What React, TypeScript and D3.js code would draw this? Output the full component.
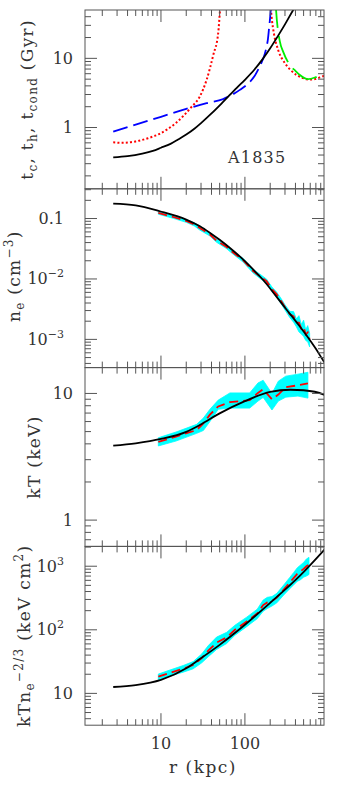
import React from 'react';
import * as d3 from 'd3';

const WIDTH = 361;
const HEIGHT = 795;
const X_LEFT = 85;
const X_RIGHT = 324;
const PANEL_TOP = 10;
const PANEL_H = 178.8;

// ---------- x axis ----------
const R_DOMAIN = [1.245, 875];
const X_TICK_VALUES = [10, 100];
const X_TICK_LABELS = ['10', '100'];
const X_TITLE = 'r (kpc)';

// ---------- panel 1 : timescales ----------
const T_DOMAIN = [0.13, 50];
const T_TICK_VALUES = [1, 10];
const T_TICK_LABELS = ['1', '10'];
// cooling time (black)
const TC_R = [2.7, 4, 6, 8, 10, 13, 16, 20, 25, 30, 40, 55, 80, 100, 130, 165, 200, 250, 300, 376, 420];
const TC_V = [0.37, 0.385, 0.42, 0.46, 0.51, 0.58, 0.67, 0.79, 0.96, 1.16, 1.6, 2.35, 3.75, 4.9, 6.9, 10, 14, 21.5, 31, 50, 62];
// heating time (blue dashed)
const TH_R = [2.7, 5, 10, 20, 35, 55, 87, 115, 131, 145, 159, 172, 181, 188, 193, 198, 203, 206];
const TH_V = [0.87, 1.1, 1.43, 1.86, 2.25, 2.58, 3.5, 4.6, 5.6, 7, 8.9, 11.5, 14.7, 19, 25.7, 35, 50, 65];
// red dotted, inner branch
const TD1_R = [2.7, 3.5, 5, 7, 10, 15, 23, 29, 35, 42, 48, 50.5, 51.5];
const TD1_V = [0.61, 0.6, 0.63, 0.7, 0.83, 1.16, 1.97, 2.8, 4.9, 11.2, 22.9, 50, 70];
// red dotted, outer branch
const TD2_R = [202, 205, 210, 221, 249, 299, 350, 412, 480, 543, 610, 681, 780, 880];
const TD2_V = [80, 50, 35.7, 23.2, 13.2, 8.55, 6.8, 5.74, 5.25, 4.98, 4.95, 5.02, 5.3, 5.6];
// conduction time (green)
const TCOND_R = [231, 235, 261, 286, 343, 400, 452, 567, 700, 880];
const TCOND_V = [70, 50, 17.4, 12.4, 8.0, 6.6, 5.74, 5.0, 5.35, 6.1];
const CLUSTER_NAME = 'A1835';

// ---------- panel 2 : density ----------
const NE_DOMAIN = [10 ** -3.467, 10 ** -0.508];
const NE_TICK_VALUES = [0.1, 0.01, 0.001];
const NE_TICK_LABELS = ['0.1', '10^−2', '10^−3'];
const NE_MODEL_R = [2.7, 5, 9.7, 20, 29.1, 40, 50, 72.6, 100, 130, 165, 230, 314, 420, 543, 700, 856, 900];
const NE_MODEL_V = [0.176, 0.165, 0.132, 0.096, 0.0744, 0.0555, 0.0445, 0.0293, 0.0197, 0.0136, 0.0096, 0.0054, 0.0031, 0.00186, 0.00116, 0.000698, 0.000448, 0.000405];
const NE_DATA_R = [9.3, 14, 20, 25, 29, 38, 46, 60, 73, 95, 125, 150, 181, 210, 238, 270, 300, 343, 380, 410, 440, 470, 500, 530, 560, 590];
const NE_DATA_V = [0.124, 0.106, 0.091, 0.08, 0.07, 0.055, 0.043, 0.034, 0.027, 0.0205, 0.0135, 0.0112, 0.0092, 0.0068, 0.0056, 0.0043, 0.0034, 0.0026, 0.0024, 0.0019, 0.0019, 0.0015, 0.0016, 0.0012, 0.0013, 0.001];
const NE_DATA_ERR = [0.05, 0.05, 0.05, 0.06, 0.08, 0.06, 0.06, 0.06, 0.06, 0.07, 0.07, 0.08, 0.08, 0.08, 0.09, 0.1, 0.1, 0.12, 0.2, 0.15, 0.3, 0.18, 0.3, 0.2, 0.3, 0.25];

// ---------- panel 3 : temperature ----------
const KT_DOMAIN = [0.62, 16];
const KT_TICK_VALUES = [1, 10];
const KT_TICK_LABELS = ['1', '10'];
const KT_MODEL_R = [2.7, 5, 10, 20, 29, 50, 100, 200, 350, 500, 870, 900];
const KT_MODEL_V = [3.87, 4.04, 4.37, 4.98, 5.63, 6.96, 8.7, 10.3, 10.7, 10.6, 9.8, 9.7];
const KT_DATA_R = [9.3, 15.1, 26.6, 32, 38.3, 48.1, 66.3, 114, 143, 165, 210, 250, 307, 428, 563];
const KT_DATA_V = [4.14, 4.57, 5.14, 5.8, 6.8, 7.9, 8.54, 8.86, 10.1, 10.8, 9.0, 9.8, 11.2, 11.6, 12.0];
const KT_DATA_LO = [3.85, 4.21, 4.84, 5.1, 6.0, 7.5, 7.66, 7.66, 8.7, 9.3, 7.4, 8.7, 9.35, 9.53, 9.19];
const KT_DATA_HI = [4.47, 4.96, 5.7, 6.4, 7.5, 8.86, 10.1, 10.1, 12.1, 12.7, 10.0, 12.5, 13.7, 14.2, 14.7];

// ---------- panel 4 : entropy ----------
const K_DOMAIN = [3.16, 2050];
const K_TICK_VALUES = [10, 100, 1000];
const K_TICK_LABELS = ['10', '10^2', '10^3'];
const K_MODEL_R = [2.7, 5, 10, 20, 29, 50, 100, 200, 450, 870, 900];
const K_MODEL_V = [12.6, 13.5, 16.3, 24.8, 34.7, 58, 120, 266, 705, 1780, 1870];
const K_DATA_R = [9.3, 12.8, 18.4, 24.2, 30.6, 36.6, 46, 60.6, 76, 105, 140, 165, 185, 210, 240, 290, 340, 380, 420, 460, 500, 540, 580];
const K_DATA_V = [18.3, 21, 24.5, 28, 36, 47, 63, 76, 100, 135, 180, 245, 270, 285, 320, 430, 550, 650, 760, 830, 910, 1000, 1060];
const K_DATA_ERR = [0.1, 0.11, 0.12, 0.13, 0.16, 0.2, 0.22, 0.2, 0.18, 0.17, 0.17, 0.2, 0.2, 0.17, 0.17, 0.18, 0.2, 0.22, 0.24, 0.26, 0.26, 0.3, 0.3];

const FONT = "'DejaVu Serif', 'Liberation Serif', serif";
const TEXT_COLOR = '#333';
const FRAME_COLOR = '#555';

type Pt = [number, number];
const zip = (a: number[], b: number[]): Pt[] => a.map((v, i) => [v, b[i]]);

const xScale = d3.scaleLog().domain(R_DOMAIN).range([X_LEFT, X_RIGHT]);

function logTicks(min: number, max: number) {
  const out: { v: number; major: boolean }[] = [];
  for (let e = Math.floor(Math.log10(min)) - 1; e <= Math.ceil(Math.log10(max)); e++) {
    for (let k = 1; k <= 9; k++) {
      const v = k * Math.pow(10, e);
      if (v > min * 1.0001 && v < max * 0.9999) out.push({ v, major: k === 1 });
    }
  }
  return out;
}

function TickLabel({ label, x, y }: { label: string; x: number; y: number }) {
  const parts = label.split('^');
  const hasSup = parts.length > 1;
  const shifted = hasSup || label.includes('.');
  const xe = shifted ? x - 9 : x;
  return (
    <text x={xe} y={y} textAnchor="end" fontSize={16} fontFamily={FONT} fill={TEXT_COLOR}>
      {parts[0]}
      {hasSup && (
        <tspan dy={-7} fontSize={11}>
          {parts[1]}
        </tspan>
      )}
    </text>
  );
}

function Frame({ top, yScale, tickValues, tickLabels }: any) {
  const bottom = top + PANEL_H;
  const [ymin, ymax] = yScale.domain();
  const yt = logTicks(ymin, ymax);
  const xt = logTicks(R_DOMAIN[0], R_DOMAIN[1]);
  const MAJ = 12;
  const MIN = 6;
  return (
    <g stroke={FRAME_COLOR} strokeWidth={1}>
      <rect x={X_LEFT} y={top} width={X_RIGHT - X_LEFT} height={PANEL_H} fill="none" />
      {xt.map((t, i) => {
        const x = xScale(t.v);
        const l = t.major ? MAJ : MIN;
        return (
          <g key={'x' + i}>
            <line x1={x} x2={x} y1={top} y2={top + l} />
            <line x1={x} x2={x} y1={bottom} y2={bottom - l} />
          </g>
        );
      })}
      {yt.map((t, i) => {
        const y = yScale(t.v);
        const l = t.major ? MAJ : MIN;
        return (
          <g key={'y' + i}>
            <line x1={X_LEFT} x2={X_LEFT + l} y1={y} y2={y} />
            <line x1={X_RIGHT} x2={X_RIGHT - l} y1={y} y2={y} />
          </g>
        );
      })}
      <g stroke="none">
        {tickValues.map((v: number, i: number) => (
          <TickLabel key={i} label={tickLabels[i]} x={73} y={yScale(v) + 5.5} />
        ))}
      </g>
    </g>
  );
}

function makeLine(yScale: any) {
  return d3
    .line<Pt>()
    .x((d) => xScale(d[0]))
    .y((d) => yScale(d[1]))
    .curve(d3.curveMonotoneX);
}

function DataBand({ yScale, r, v, lo, hi, clip }: any) {
  const area = d3
    .area<number>()
    .x((i) => xScale(r[i]))
    .y0((i) => yScale(lo[i]))
    .y1((i) => yScale(hi[i]));
  const idx = r.map((_: number, i: number) => i);
  const line = d3
    .line<Pt>()
    .x((d) => xScale(d[0]))
    .y((d) => yScale(d[1]));
  return (
    <g clipPath={clip}>
      <path d={area(idx) || ''} fill="#00ffff" stroke="#00ffff" strokeWidth={0.8} />
      <path d={line(zip(r, v)) || ''} fill="none" stroke="#ff0000" strokeWidth={1.8} strokeDasharray="9,5" />
    </g>
  );
}

const vAxisTitleStyle: React.CSSProperties = { whiteSpace: 'pre' };

export default function App() {
  const tops = [0, 1, 2, 3].map((i) => PANEL_TOP + i * PANEL_H);
  const yT = d3.scaleLog().domain(T_DOMAIN).range([tops[0] + PANEL_H, tops[0]]);
  const yNe = d3.scaleLog().domain(NE_DOMAIN).range([tops[1] + PANEL_H, tops[1]]);
  const yKT = d3.scaleLog().domain(KT_DOMAIN).range([tops[2] + PANEL_H, tops[2]]);
  const yK = d3.scaleLog().domain(K_DOMAIN).range([tops[3] + PANEL_H, tops[3]]);

  const lT = makeLine(yT);
  const lNe = makeLine(yNe);
  const lKT = makeLine(yKT);
  const lK = makeLine(yK);

  const neLo = NE_DATA_V.map((v, i) => v * (1 - NE_DATA_ERR[i]));
  const neHi = NE_DATA_V.map((v, i) => v * (1 + NE_DATA_ERR[i]));
  const kLo = K_DATA_V.map((v, i) => v * (1 - K_DATA_ERR[i]));
  const kHi = K_DATA_V.map((v, i) => v * (1 + K_DATA_ERR[i]));

  const sub = 12;

  return (
    <svg width={WIDTH} height={HEIGHT} style={{ position: 'absolute', left: 0, top: 0, background: '#fff' }}>
      <defs>
        {tops.map((t, i) => (
          <clipPath id={'clip' + i} key={i}>
            <rect x={X_LEFT} y={t} width={X_RIGHT - X_LEFT} height={PANEL_H} />
          </clipPath>
        ))}
      </defs>
      <rect x={0} y={0} width={WIDTH} height={HEIGHT} fill="#fff" />

      {/* panel 1 */}
      <g clipPath="url(#clip0)" fill="none">
        <path d={lT(zip(TD1_R, TD1_V)) || ''} stroke="#ff0000" strokeWidth={2} strokeDasharray="2,2.2" />
        <path d={lT(zip(TD2_R, TD2_V)) || ''} stroke="#ff0000" strokeWidth={2} strokeDasharray="2,2.2" />
        <path d={lT(zip(TCOND_R, TCOND_V)) || ''} stroke="#00ee00" strokeWidth={1.8} strokeDasharray="28,8" />
        <path d={lT(zip(TH_R, TH_V)) || ''} stroke="#0000ff" strokeWidth={1.8} strokeDasharray="15,6" />
        <path d={lT(zip(TC_R, TC_V)) || ''} stroke="#000" strokeWidth={1.8} />
      </g>
      <Frame top={tops[0]} yScale={yT} tickValues={T_TICK_VALUES} tickLabels={T_TICK_LABELS} />
      <text x={228} y={162.7} fontSize={16} fontFamily={FONT} fill={TEXT_COLOR} letterSpacing={1.2}>
        {CLUSTER_NAME}
      </text>

      {/* panel 2 */}
      <DataBand yScale={yNe} r={NE_DATA_R} v={NE_DATA_V} lo={neLo} hi={neHi} clip="url(#clip1)" />
      <g clipPath="url(#clip1)" fill="none">
        <path d={lNe(zip(NE_MODEL_R, NE_MODEL_V)) || ''} stroke="#000" strokeWidth={1.8} />
      </g>
      <Frame top={tops[1]} yScale={yNe} tickValues={NE_TICK_VALUES} tickLabels={NE_TICK_LABELS} />

      {/* panel 3 */}
      <DataBand yScale={yKT} r={KT_DATA_R} v={KT_DATA_V} lo={KT_DATA_LO} hi={KT_DATA_HI} clip="url(#clip2)" />
      <g clipPath="url(#clip2)" fill="none">
        <path d={lKT(zip(KT_MODEL_R, KT_MODEL_V)) || ''} stroke="#000" strokeWidth={1.8} />
      </g>
      <Frame top={tops[2]} yScale={yKT} tickValues={KT_TICK_VALUES} tickLabels={KT_TICK_LABELS} />

      {/* panel 4 */}
      <DataBand yScale={yK} r={K_DATA_R} v={K_DATA_V} lo={kLo} hi={kHi} clip="url(#clip3)" />
      <g clipPath="url(#clip3)" fill="none">
        <path d={lK(zip(K_MODEL_R, K_MODEL_V)) || ''} stroke="#000" strokeWidth={1.8} />
      </g>
      <Frame top={tops[3]} yScale={yK} tickValues={K_TICK_VALUES} tickLabels={K_TICK_LABELS} />

      {/* x tick labels */}
      {X_TICK_VALUES.map((v, i) => (
        <text key={i} x={xScale(v)} y={749} textAnchor="middle" fontSize={16} fontFamily={FONT} fill={TEXT_COLOR}>
          {X_TICK_LABELS[i]}
        </text>
      ))}
      <text x={203} y={773} textAnchor="middle" fontSize={17} fontFamily={FONT} fill={TEXT_COLOR} letterSpacing={1.5} style={vAxisTitleStyle}>
        {X_TITLE}
      </text>

      {/* y axis titles */}
      <text transform={`translate(33,${tops[0] + PANEL_H / 2}) rotate(-90)`} textAnchor="middle" fontSize={17} fontFamily={FONT} fill={TEXT_COLOR} letterSpacing={1.3} style={vAxisTitleStyle}>
        t<tspan dy={4} fontSize={sub}>c</tspan>
        <tspan dy={-4}>, t</tspan>
        <tspan dy={4} fontSize={sub}>h</tspan>
        <tspan dy={-4}>, t</tspan>
        <tspan dy={4} fontSize={sub}>cond</tspan>
        <tspan dy={-4}> (Gyr)</tspan>
      </text>
      <text transform={`translate(20,${tops[1] + PANEL_H / 2 - 2}) rotate(-90)`} textAnchor="middle" fontSize={17} fontFamily={FONT} fill={TEXT_COLOR} letterSpacing={1.3} style={vAxisTitleStyle}>
        n<tspan dy={4} fontSize={sub}>e</tspan>
        <tspan dy={-4}> (cm</tspan>
        <tspan dy={-7} fontSize={sub}>−3</tspan>
        <tspan dy={7}>)</tspan>
      </text>
      <text transform={`translate(39.5,${tops[2] + PANEL_H / 2}) rotate(-90)`} textAnchor="middle" fontSize={17} fontFamily={FONT} fill={TEXT_COLOR} letterSpacing={1.3} style={vAxisTitleStyle}>
        kT (keV)
      </text>
      <text transform={`translate(30,${tops[3] + PANEL_H / 2}) rotate(-90)`} textAnchor="middle" fontSize={17} fontFamily={FONT} fill={TEXT_COLOR} letterSpacing={1.3} style={vAxisTitleStyle}>
        kTn<tspan dy={4} fontSize={sub}>e</tspan>
        <tspan dy={-11} fontSize={sub}>−2/3</tspan>
        <tspan dy={7}> (keV cm</tspan>
        <tspan dy={-7} fontSize={sub}>2</tspan>
        <tspan dy={7}>)</tspan>
      </text>
    </svg>
  );
}
